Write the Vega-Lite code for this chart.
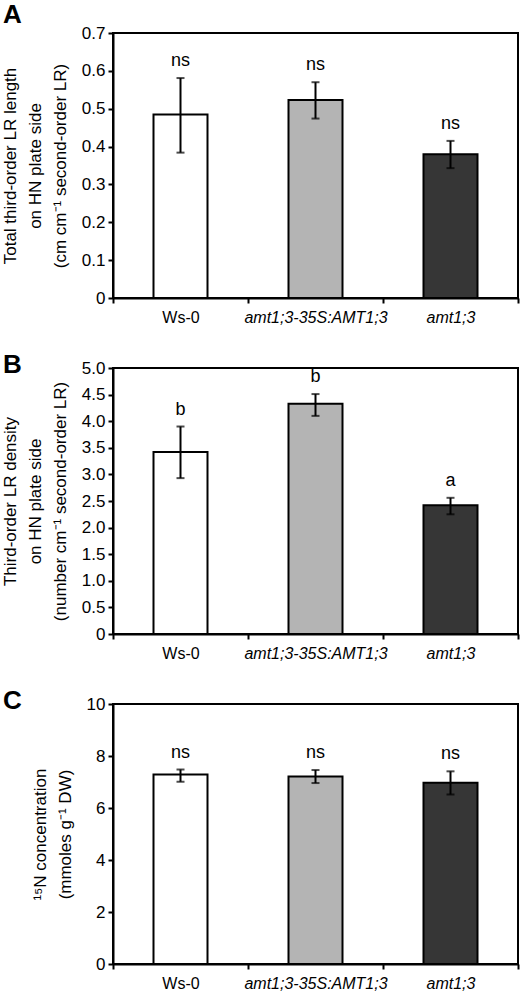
{
  "$schema": "https://vega.github.io/schema/vega-lite/v6.json",
  "padding": {"left": 0, "top": 1, "right": 10, "bottom": 0},
  "spacing": 25,
  "config": {
    "font": "Liberation Sans",
    "view": {"stroke": "black", "strokeWidth": 2},
    "axis": {
      "grid": false,
      "domainColor": "black",
      "domainWidth": 2,
      "tickColor": "black",
      "tickWidth": 2,
      "tickSize": 5,
      "labelColor": "black",
      "labelFontSize": 17,
      "labelOverlap": false,
      "titleColor": "black",
      "titleFontSize": 17,
      "titleFontWeight": "normal",
      "titleLineHeight": 25
    },
    "axisX": {
      "labelFontSize": 16,
      "labelPadding": 6,
      "labelAngle": 0,
      "tickBand": "extent",
      "title": null
    },
    "axisY": {"labelPadding": 3, "titlePadding": 12},
    "title": {"fontSize": 26, "fontWeight": "bold", "anchor": "start", "frame": "group", "color": "black"}
  },
  "datasets": {
    "a": [
      {"genotype": "Ws-0", "mean": 0.485, "lo": 0.384, "hi": 0.581, "sig": "ns"},
      {"genotype": "amt1;3-35S:AMT1;3", "mean": 0.523, "lo": 0.474, "hi": 0.570, "sig": "ns"},
      {"genotype": "amt1;3", "mean": 0.380, "lo": 0.343, "hi": 0.415, "sig": "ns"}
    ],
    "b": [
      {"genotype": "Ws-0", "mean": 3.42, "lo": 2.93, "hi": 3.90, "sig": "b"},
      {"genotype": "amt1;3-35S:AMT1;3", "mean": 4.33, "lo": 4.10, "hi": 4.51, "sig": "b"},
      {"genotype": "amt1;3", "mean": 2.42, "lo": 2.25, "hi": 2.56, "sig": "a"}
    ],
    "c": [
      {"genotype": "Ws-0", "mean": 7.29, "lo": 7.01, "hi": 7.48, "sig": "ns"},
      {"genotype": "amt1;3-35S:AMT1;3", "mean": 7.21, "lo": 6.96, "hi": 7.46, "sig": "ns"},
      {"genotype": "amt1;3", "mean": 6.97, "lo": 6.52, "hi": 7.41, "sig": "ns"}
    ]
  },
  "vconcat": [
    {
      "title": {"text": "A", "dx": -110, "offset": -4},
      "width": 405,
      "height": 265,
      "data": {"name": "a"},
      "encoding": {
        "x": {
          "field": "genotype", "type": "nominal",
          "sort": ["Ws-0", "amt1;3-35S:AMT1;3", "amt1;3"],
          "scale": {"domain": ["Ws-0", "amt1;3-35S:AMT1;3", "amt1;3"], "paddingInner": 0, "paddingOuter": 0},
          "axis": {"labelFontStyle": {"condition": {"test": "datum.value != 'Ws-0'", "value": "italic"}, "value": "normal"}}
        }
      },
      "layer": [
        {
          "mark": {"type": "bar", "stroke": "black", "strokeWidth": 2, "width": {"band": 0.4}},
          "encoding": {
            "y": {"field": "mean", "type": "quantitative", "scale": {"domain": [0, 0.7]},
              "axis": {"values": [0, 0.1, 0.2, 0.3, 0.4, 0.5, 0.6, 0.7], "labelExpr": "datum.value == 0 ? '0' : format(datum.value, '.1f')",
                "title": ["Total third-order LR length", "on HN plate side", "(cm cm⁻¹ second-order LR)"]}},
            "fill": {"field": "genotype", "type": "nominal", "legend": null,
              "scale": {"domain": ["Ws-0", "amt1;3-35S:AMT1;3", "amt1;3"], "range": ["#ffffff", "#b4b4b4", "#363636"]}}
          }
        },
        {"mark": {"type": "rule", "color": "black", "strokeWidth": 2},
          "encoding": {"y": {"field": "lo", "type": "quantitative",
              "axis": {"values": [0, 0.1, 0.2, 0.3, 0.4, 0.5, 0.6, 0.7], "labelExpr": "datum.value == 0 ? '0' : format(datum.value, '.1f')",
                "title": ["Total third-order LR length", "on HN plate side", "(cm cm⁻¹ second-order LR)"]}}, "y2": {"field": "hi"}}},
        {"mark": {"type": "tick", "color": "black", "size": 8, "thickness": 2},
          "encoding": {"y": {"field": "lo", "type": "quantitative",
              "axis": {"values": [0, 0.1, 0.2, 0.3, 0.4, 0.5, 0.6, 0.7], "labelExpr": "datum.value == 0 ? '0' : format(datum.value, '.1f')",
                "title": ["Total third-order LR length", "on HN plate side", "(cm cm⁻¹ second-order LR)"]}}}},
        {"mark": {"type": "tick", "color": "black", "size": 8, "thickness": 2},
          "encoding": {"y": {"field": "hi", "type": "quantitative",
              "axis": {"values": [0, 0.1, 0.2, 0.3, 0.4, 0.5, 0.6, 0.7], "labelExpr": "datum.value == 0 ? '0' : format(datum.value, '.1f')",
                "title": ["Total third-order LR length", "on HN plate side", "(cm cm⁻¹ second-order LR)"]}}}},
        {"mark": {"type": "text", "fontSize": 18, "dy": -12, "baseline": "alphabetic", "color": "black"},
          "encoding": {"y": {"field": "hi", "type": "quantitative",
              "axis": {"values": [0, 0.1, 0.2, 0.3, 0.4, 0.5, 0.6, 0.7], "labelExpr": "datum.value == 0 ? '0' : format(datum.value, '.1f')",
                "title": ["Total third-order LR length", "on HN plate side", "(cm cm⁻¹ second-order LR)"]}}, "text": {"field": "sig"}}}
      ]
    },
    {
      "title": {"text": "B", "dx": -110, "offset": -19},
      "width": 405,
      "height": 266,
      "data": {"name": "b"},
      "encoding": {
        "x": {
          "field": "genotype", "type": "nominal",
          "sort": ["Ws-0", "amt1;3-35S:AMT1;3", "amt1;3"],
          "scale": {"domain": ["Ws-0", "amt1;3-35S:AMT1;3", "amt1;3"], "paddingInner": 0, "paddingOuter": 0},
          "axis": {"labelFontStyle": {"condition": {"test": "datum.value != 'Ws-0'", "value": "italic"}, "value": "normal"}}
        }
      },
      "layer": [
        {
          "mark": {"type": "bar", "stroke": "black", "strokeWidth": 2, "width": {"band": 0.4}},
          "encoding": {
            "y": {"field": "mean", "type": "quantitative", "scale": {"domain": [0, 5]},
              "axis": {"values": [0, 0.5, 1, 1.5, 2, 2.5, 3, 3.5, 4, 4.5, 5], "labelExpr": "datum.value == 0 ? '0' : format(datum.value, '.1f')",
                "title": ["Third-order LR density", "on HN plate side", "(number cm⁻¹ second-order LR)"]}},
            "fill": {"field": "genotype", "type": "nominal", "legend": null,
              "scale": {"domain": ["Ws-0", "amt1;3-35S:AMT1;3", "amt1;3"], "range": ["#ffffff", "#b4b4b4", "#363636"]}}
          }
        },
        {"mark": {"type": "rule", "color": "black", "strokeWidth": 2},
          "encoding": {"y": {"field": "lo", "type": "quantitative",
              "axis": {"values": [0, 0.5, 1, 1.5, 2, 2.5, 3, 3.5, 4, 4.5, 5], "labelExpr": "datum.value == 0 ? '0' : format(datum.value, '.1f')",
                "title": ["Third-order LR density", "on HN plate side", "(number cm⁻¹ second-order LR)"]}}, "y2": {"field": "hi"}}},
        {"mark": {"type": "tick", "color": "black", "size": 8, "thickness": 2},
          "encoding": {"y": {"field": "lo", "type": "quantitative",
              "axis": {"values": [0, 0.5, 1, 1.5, 2, 2.5, 3, 3.5, 4, 4.5, 5], "labelExpr": "datum.value == 0 ? '0' : format(datum.value, '.1f')",
                "title": ["Third-order LR density", "on HN plate side", "(number cm⁻¹ second-order LR)"]}}}},
        {"mark": {"type": "tick", "color": "black", "size": 8, "thickness": 2},
          "encoding": {"y": {"field": "hi", "type": "quantitative",
              "axis": {"values": [0, 0.5, 1, 1.5, 2, 2.5, 3, 3.5, 4, 4.5, 5], "labelExpr": "datum.value == 0 ? '0' : format(datum.value, '.1f')",
                "title": ["Third-order LR density", "on HN plate side", "(number cm⁻¹ second-order LR)"]}}}},
        {"mark": {"type": "text", "fontSize": 18, "dy": -12, "baseline": "alphabetic", "color": "black"},
          "encoding": {"y": {"field": "hi", "type": "quantitative",
              "axis": {"values": [0, 0.5, 1, 1.5, 2, 2.5, 3, 3.5, 4, 4.5, 5], "labelExpr": "datum.value == 0 ? '0' : format(datum.value, '.1f')",
                "title": ["Third-order LR density", "on HN plate side", "(number cm⁻¹ second-order LR)"]}}, "text": {"field": "sig"}}}
      ]
    },
    {
      "title": {"text": "C", "dx": -110, "offset": -19},
      "width": 405,
      "height": 260,
      "data": {"name": "c"},
      "encoding": {
        "x": {
          "field": "genotype", "type": "nominal",
          "sort": ["Ws-0", "amt1;3-35S:AMT1;3", "amt1;3"],
          "scale": {"domain": ["Ws-0", "amt1;3-35S:AMT1;3", "amt1;3"], "paddingInner": 0, "paddingOuter": 0},
          "axis": {"labelFontStyle": {"condition": {"test": "datum.value != 'Ws-0'", "value": "italic"}, "value": "normal"}}
        }
      },
      "layer": [
        {
          "mark": {"type": "bar", "stroke": "black", "strokeWidth": 2, "width": {"band": 0.4}},
          "encoding": {
            "y": {"field": "mean", "type": "quantitative", "scale": {"domain": [0, 10]},
              "axis": {"values": [0, 2, 4, 6, 8, 10], "title": ["¹⁵N concentration", "(mmoles g⁻¹ DW)"]}},
            "fill": {"field": "genotype", "type": "nominal", "legend": null,
              "scale": {"domain": ["Ws-0", "amt1;3-35S:AMT1;3", "amt1;3"], "range": ["#ffffff", "#b4b4b4", "#363636"]}}
          }
        },
        {"mark": {"type": "rule", "color": "black", "strokeWidth": 2},
          "encoding": {"y": {"field": "lo", "type": "quantitative",
              "axis": {"values": [0, 2, 4, 6, 8, 10], "title": ["¹⁵N concentration", "(mmoles g⁻¹ DW)"]}}, "y2": {"field": "hi"}}},
        {"mark": {"type": "tick", "color": "black", "size": 8, "thickness": 2},
          "encoding": {"y": {"field": "lo", "type": "quantitative",
              "axis": {"values": [0, 2, 4, 6, 8, 10], "title": ["¹⁵N concentration", "(mmoles g⁻¹ DW)"]}}}},
        {"mark": {"type": "tick", "color": "black", "size": 8, "thickness": 2},
          "encoding": {"y": {"field": "hi", "type": "quantitative",
              "axis": {"values": [0, 2, 4, 6, 8, 10], "title": ["¹⁵N concentration", "(mmoles g⁻¹ DW)"]}}}},
        {"mark": {"type": "text", "fontSize": 18, "dy": -12, "baseline": "alphabetic", "color": "black"},
          "encoding": {"y": {"field": "hi", "type": "quantitative",
              "axis": {"values": [0, 2, 4, 6, 8, 10], "title": ["¹⁵N concentration", "(mmoles g⁻¹ DW)"]}}, "text": {"field": "sig"}}}
      ]
    }
  ]
}
